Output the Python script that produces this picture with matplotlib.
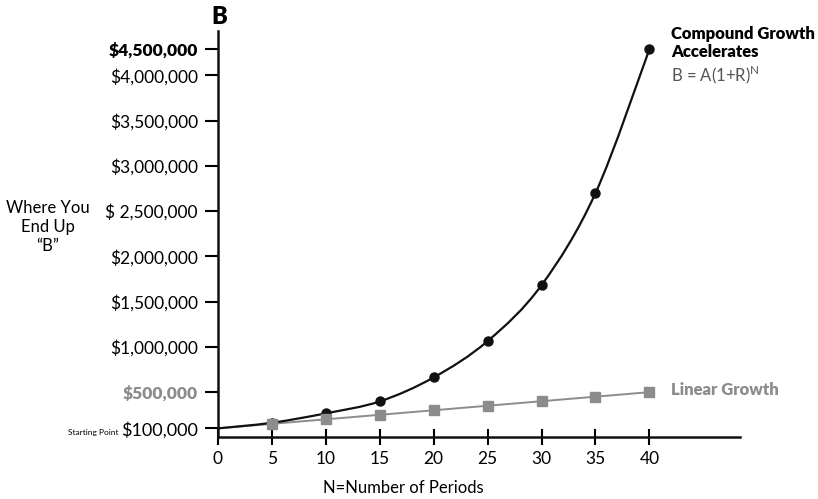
import numpy as np
import matplotlib
matplotlib.use("Agg")
import matplotlib.pyplot as plt
from matplotlib.path import Path
from matplotlib.patches import PathPatch

plt.rcParams['font.family'] = ['Lato', 'DejaVu Sans']

# data
periods = [0, 5, 10, 15, 20, 25, 30, 35, 40]
compound = [100000, 162000, 266000, 398000, 663000, 1064000, 1682000, 2698000, 4287000]
linear = [100000, 150000, 200000, 250000, 300000, 350000, 400000, 450000, 500000]

ytick_vals = [100000, 500000, 1000000, 1500000, 2000000, 2500000,
              3000000, 3500000, 4000000, compound[-1]]
ytick_labels = ['$100,000', '$500,000', '$1,000,000', '$1,500,000', '$2,000,000',
                '$ 2,500,000', '$3,000,000', '$3,500,000', '$4,000,000', '$4,500,000']
xtick_vals = [0, 5, 10, 15, 20, 25, 30, 35, 40]

GRAY = '#8c8c8c'


def smooth_path(xs, ys):
    # catmull-rom through the points, as cubic bezier segments
    xs = np.asarray(xs, float)
    ys = np.asarray(ys, float)
    pts = np.column_stack([xs, ys])
    verts = [pts[0]]
    codes = [Path.MOVETO]
    for i in range(len(pts) - 1):
        p0 = pts[i - 1] if i > 0 else pts[i]
        p1 = pts[i]
        p2 = pts[i + 1]
        p3 = pts[i + 2] if i + 2 < len(pts) else pts[i + 1]
        c1 = p1 + (p2 - p0) / 6
        c2 = p2 - (p3 - p1) / 6
        verts += [c1, c2, p2]
        codes += [Path.CURVE4] * 3
    return Path(verts, codes)


fig = plt.figure(figsize=(8.18, 4.99), dpi=100)
ax = fig.add_axes([0.2665, 0.1234, 0.6381, 0.8145])

# compound growth: smooth curve + markers
ax.add_patch(PathPatch(smooth_path(periods, compound), fill=False,
                       edgecolor='#111111', lw=1.6, zorder=3))
ax.plot(periods[1:], compound[1:], 'o', color='#111111', ms=6.5, zorder=4)

# linear growth
ax.plot(periods, linear, '-', color=GRAY, lw=1.4, zorder=2)
ax.plot(periods[1:], linear[1:], 's', color=GRAY, ms=6.5, zorder=5)

ax.set_xlim(0, 48.4)
ax.set_ylim(0, 4490000)

for s in ['top', 'right']:
    ax.spines[s].set_visible(False)
for s in ['left', 'bottom']:
    ax.spines[s].set_linewidth(1.8)
    ax.spines[s].set_color('#111111')

ax.set_xticks(xtick_vals)
ax.set_xticklabels([str(v) for v in xtick_vals], fontsize=12.5)
ax.tick_params(axis='x', direction='inout', length=11, width=1.5, pad=4.5)
ax.set_yticks(ytick_vals)
ax.set_yticklabels(ytick_labels, fontsize=12.5)
ax.tick_params(axis='y', direction='out', length=9.5, width=1.5, pad=5)

for lab in ax.get_yticklabels():
    t = lab.get_text()
    if t == '$4,500,000':
        lab.set_fontweight('heavy')
    elif t == '$500,000':
        lab.set_fontweight('heavy')
        lab.set_color(GRAY)
    elif t == '$100,000':
        lab.set_fontsize(13)

# annotations
fig.text(219 / 818, 1 - 17 / 499, 'B', fontsize=17, fontweight='heavy',
         ha='center', va='center')
fig.text(48 / 818, 1 - 227 / 499, 'Where You\nEnd Up\n\u201cB\u201d', fontsize=12,
         ha='center', va='center', linespacing=1.2)
fig.text(118 / 818, 1 - 432 / 499, 'Starting Point', fontsize=6,
         ha='right', va='center')
fig.text(403 / 818, 1 - 488 / 499, 'N=Number of Periods', fontsize=12,
         ha='center', va='center')

fig.text(671 / 818, 1 - 43 / 499, 'Compound Growth\nAccelerates', fontsize=12,
         fontweight='heavy', ha='left', va='center', linespacing=1.15)
fig.text(671 / 818, 1 - 75 / 499, r'B = A(1+R)$^{\mathregular{N}}$', fontsize=12,
         color='#555555', ha='left', va='center')
fig.text(671 / 818, 1 - 390 / 499, 'Linear Growth', fontsize=12,
         fontweight='heavy', color=GRAY, ha='left', va='center')

fig.savefig('out.png', dpi=100)
